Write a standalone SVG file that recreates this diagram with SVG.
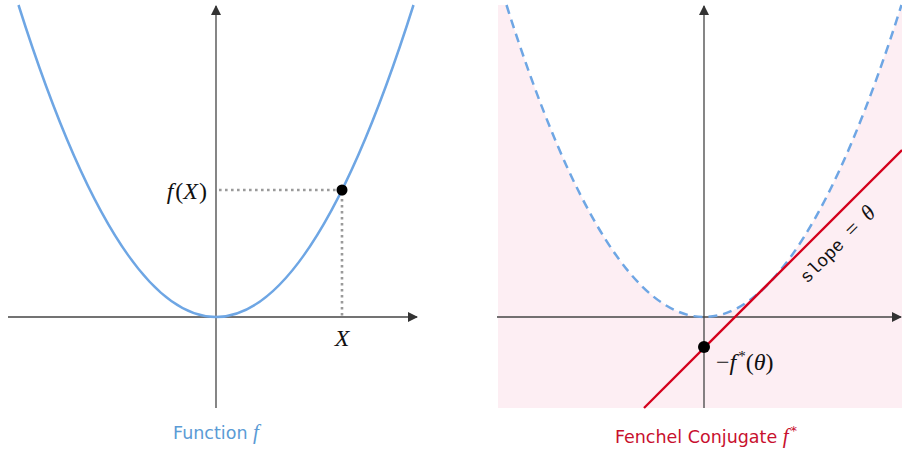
<svg xmlns="http://www.w3.org/2000/svg" width="902" height="450" viewBox="0 0 902 450">
<defs>
<style>
.axis{stroke:#444;stroke-width:1.3;fill:none}
.curve{stroke:#6ea6e4;stroke-width:2.5;fill:none}
.dash{stroke:#6ea6e4;stroke-width:2.5;fill:none;stroke-dasharray:9 6}
.dot{stroke:#9a9a9a;stroke-width:2.6;fill:none;stroke-dasharray:2.6 3.4}
.math{font-family:"Liberation Serif",serif;font-size:24px;fill:#111}
.cap{font-family:"DejaVu Sans","Liberation Sans",sans-serif;font-size:17.5px}
</style>
<marker id="ah" viewBox="0 0 10 10" refX="9" refY="5" markerWidth="10" markerHeight="10" markerUnits="userSpaceOnUse" orient="auto">
<path d="M0,0 L10,5 L0,10 Z" fill="#333"/>
</marker>
</defs>
<rect width="902" height="450" fill="#fff"/>
<g id="left-plot">
<line class="axis" x1="8" y1="317" x2="417" y2="317" marker-end="url(#ah)"/>
<line class="axis" x1="216" y1="408" x2="216" y2="6" marker-end="url(#ah)"/>
<path class="dot" d="M219,190 H342 V317"/>
<path class="curve" d="M18.5,5 Q117.25,317 216,317 Q314.75,317 413.5,5"/>
<circle cx="342" cy="190" r="5.5" fill="#000"/>
<text class="math" x="207" y="199" text-anchor="end"><tspan font-style="italic">f</tspan><tspan dx="2">(</tspan><tspan font-style="italic">X</tspan><tspan dx="1">)</tspan></text>
<text class="math" x="342" y="346" text-anchor="middle" font-style="italic">X</text>
<text class="cap" x="216" y="439" text-anchor="middle" fill="#5b9bd5">Function <tspan font-family="Liberation Serif,serif" font-style="italic" font-size="21">f</tspan></text>
</g>
<g id="right-plot">
<path d="M498,5 L506.5,5 Q605.25,317 704,317 Q802.75,317 901.5,5 L902,5 L902,408 L498,408 Z" fill="#fdeef3"/>
<line class="axis" x1="497" y1="317" x2="901" y2="317" marker-end="url(#ah)"/>
<line class="axis" x1="704" y1="408" x2="704" y2="6" marker-end="url(#ah)"/>
<path class="dash" d="M506.5,5 Q605.25,317 704,317 Q802.75,317 901.5,5"/>
<line x1="644" y1="408" x2="902" y2="150" stroke="#d4001c" stroke-width="2.3"/>
<circle cx="704" cy="347" r="6" fill="#000"/>
<text class="math" x="716" y="370">−<tspan font-style="italic">f</tspan><tspan font-size="15" dx="2" dy="-9">*</tspan><tspan dy="9">(</tspan><tspan font-style="italic">θ</tspan>)</text>
<text transform="translate(842,249) rotate(-45)" text-anchor="middle" font-family="Liberation Mono,monospace" font-size="18" fill="#111">slope <tspan font-family="Liberation Serif,serif" font-size="22">=</tspan> <tspan font-family="Liberation Serif,serif" font-style="italic" font-size="22">θ</tspan></text>
<text class="cap" x="706" y="443" text-anchor="middle" fill="#c8102e">Fenchel Conjugate <tspan font-family="Liberation Serif,serif" font-style="italic" font-size="21">f</tspan><tspan font-size="13" dx="2" dy="-8">*</tspan></text>
</g>
</svg>
